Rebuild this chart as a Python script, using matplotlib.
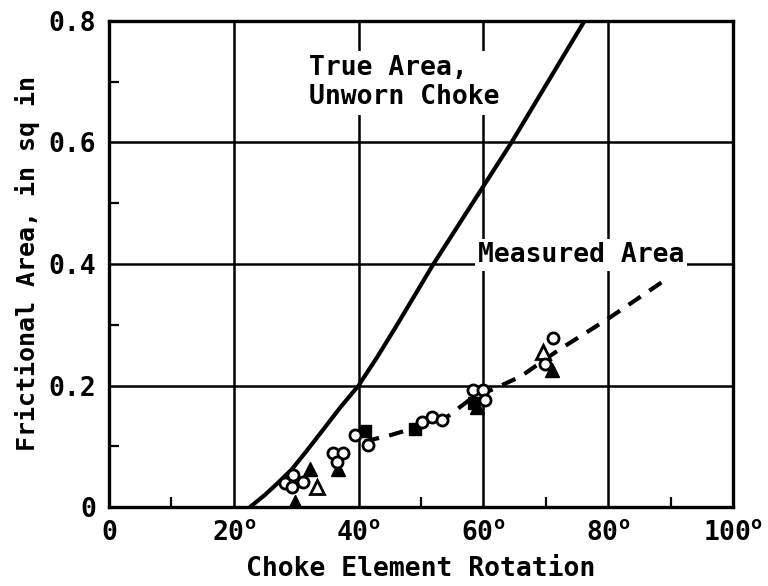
import matplotlib
matplotlib.use("Agg")
import matplotlib.pyplot as plt
from matplotlib.ticker import MultipleLocator

plt.rcParams['font.family'] = ['DejaVu Sans Mono', 'DejaVu Sans']
plt.rcParams['font.weight'] = 'bold'
plt.rcParams['axes.labelweight'] = 'bold'
plt.rcParams['mathtext.fontset'] = 'custom'
plt.rcParams['mathtext.rm'] = 'DejaVu Sans Mono:bold'

# true area of the unworn choke
true_x = [22.6, 25.0, 27.0, 29.3, 31.5, 34.3, 37.0, 40.0, 43.0, 46.0, 52.0, 64.5, 76.2]
true_y = [0.0, 0.020, 0.039, 0.062, 0.090, 0.127, 0.163, 0.200, 0.247, 0.297, 0.400, 0.600, 0.800]

# measured area trend (dashed)
meas_x = [41.0, 45.0, 49.0, 54.0, 58.0, 62.0, 66.0, 72.0, 80.0, 89.6]
meas_y = [0.108, 0.118, 0.130, 0.147, 0.178, 0.196, 0.215, 0.258, 0.310, 0.377]

# data points by symbol
open_circ_x = [28.2, 29.5, 31.1, 29.3, 35.9, 37.5, 36.5, 39.4, 41.5, 50.2, 51.8, 53.4, 58.3, 60.0, 60.3, 71.2, 69.8]
open_circ_y = [0.040, 0.053, 0.041, 0.033, 0.089, 0.089, 0.074, 0.118, 0.102, 0.140, 0.148, 0.143, 0.193, 0.193, 0.176, 0.278, 0.236]
open_tri_x = [33.3, 69.5]
open_tri_y = [0.033, 0.255]
fill_tri_x = [29.8, 32.2, 36.7, 59.0, 71.0]
fill_tri_y = [0.008, 0.062, 0.063, 0.165, 0.225]
fill_sq_x = [41.0, 49.0, 58.5]
fill_sq_y = [0.125, 0.128, 0.172]

xticks = [0, 20, 40, 60, 80, 100]
xtick_labels = ['0'] + [f'{t}$^{{\\mathrm{{o}}}}$' for t in xticks[1:]]
yticks = [0, 0.2, 0.4, 0.6, 0.8]
ytick_labels = ['0', '0.2', '0.4', '0.6', '0.8']

fig = plt.figure(figsize=(7.68, 5.86), dpi=100)
ax = fig.add_axes([0.1419, 0.1348, 0.8125, 0.8294])

ax.set_xlim(0, 100)
ax.set_ylim(0, 0.8)
ax.set_xticks(xticks)
ax.set_xticklabels(xtick_labels)
ax.set_yticks(yticks)
ax.set_yticklabels(ytick_labels)
ax.xaxis.set_minor_locator(MultipleLocator(10))
ax.yaxis.set_minor_locator(MultipleLocator(0.1))
ax.tick_params(which='major', length=0, labelsize=19, pad=9)
ax.tick_params(which='minor', direction='in', length=7, width=1.6,
               top=False, right=False)
ax.grid(True, which='major', color='black', linewidth=1.8)
ax.set_axisbelow(True)
for s in ax.spines.values():
    s.set_linewidth(2.4)

ax.plot(true_x, true_y, color='black', linewidth=3.0, zorder=3)
ax.plot(meas_x, meas_y, color='black', linewidth=3.0, linestyle=(0, (3.5, 2.5)), zorder=3)

ax.plot(fill_sq_x, fill_sq_y, 's', color='black', markersize=8, zorder=4)
ax.plot(fill_tri_x, fill_tri_y, '^', color='black', markersize=10, zorder=4)
ax.plot(open_tri_x, open_tri_y, '^', mfc='white', mec='black', mew=2, markersize=10, zorder=5)
ax.plot(open_circ_x, open_circ_y, 'o', mfc='white', mec='black', mew=2, markersize=8, zorder=6)

ax.text(32.0, 0.698, 'True Area,\nUnworn Choke', fontsize=19, ha='left', va='center',
        multialignment='left', linespacing=1.15, zorder=5,
        bbox=dict(facecolor='white', edgecolor='none', pad=3))
ax.text(75.7, 0.415, 'Measured Area', fontsize=19, ha='center', va='center', zorder=5,
        bbox=dict(facecolor='white', edgecolor='none', pad=2))

ax.set_xlabel('Choke Element Rotation', fontsize=19)
ax.set_ylabel('Frictional Area, in sq in', fontsize=18)
ax.xaxis.set_label_coords(0.5, -0.1)
ax.yaxis.set_label_coords(-0.11, 0.5)

fig.savefig('out.png', dpi=100)
